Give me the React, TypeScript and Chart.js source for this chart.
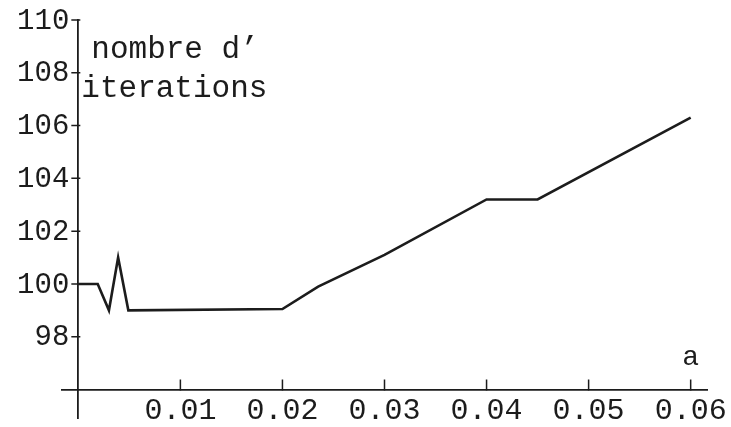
import { useEffect, useRef } from "react";
import { Chart, registerables } from "chart.js";

Chart.register(...registerables);

const aValues = [0, 0.0019, 0.003, 0.0039, 0.0049, 0.02, 0.0235, 0.03, 0.04, 0.045, 0.06];
const iterations = [100, 100, 99, 101, 99, 99.05, 99.9, 101.1, 103.2, 103.2, 106.3];
const xTicks = [0.01, 0.02, 0.03, 0.04, 0.05, 0.06];
const yTicks = [98, 100, 102, 104, 106, 108, 110];
const yTitleLines = ["nombre d\u2019", "iterations"];
const xTitle = "a";

const FONT = "'Liberation Mono', 'DejaVu Sans Mono', monospace";
const INK = "#1c1c1c";
const AXIS_Y = 96;

const zeroPad = (s: any) => {
  s.paddingTop = 0;
  s.paddingBottom = 0;
  s.paddingLeft = 0;
  s.paddingRight = 0;
};

const mathAxes = {
  id: "mathAxes",
  afterDraw(chart: any) {
    const ctx = chart.ctx;
    const xs = chart.scales.x;
    const ys = chart.scales.y;
    const ax = xs.getPixelForValue(0);
    const ay = ys.getPixelForValue(AXIS_Y);
    ctx.save();
    ctx.strokeStyle = INK;
    ctx.lineWidth = 1.5;
    ctx.beginPath();
    for (const v of yTicks) {
      const py = ys.getPixelForValue(v);
      ctx.moveTo(ax - 7, py);
      ctx.lineTo(ax + 2, py);
    }
    for (const v of xTicks) {
      const px = xs.getPixelForValue(v);
      ctx.moveTo(px, ay + 1);
      ctx.lineTo(px, ay - 10);
    }
    ctx.stroke();
    ctx.fillStyle = INK;
    ctx.font = `29px ${FONT}`;
    ctx.textAlign = "right";
    ctx.textBaseline = "middle";
    for (const v of yTicks) {
      ctx.fillText(String(v), ax - 9, ys.getPixelForValue(v) + 1);
    }
    ctx.font = `31px ${FONT}`;
    ctx.textBaseline = "alphabetic";
    ctx.textAlign = "left";
    ctx.fillText(yTitleLines[0], ax + 13, 58);
    ctx.fillText(yTitleLines[1], ax + 3, 97);
    ctx.font = `28px ${FONT}`;
    ctx.textAlign = "center";
    ctx.fillText(xTitle, xs.getPixelForValue(0.06), ay - 24);
    ctx.restore();
  },
};

export default function App() {
  const ref = useRef<HTMLCanvasElement | null>(null);
  useEffect(() => {
    if (!ref.current) return;
    const chart = new Chart(ref.current, {
      type: "line",
      data: {
        datasets: [
          {
            data: aValues.map((a, i) => ({ x: a, y: iterations[i] })),
            borderColor: INK,
            borderWidth: 2.6,
            pointRadius: 0,
            tension: 0,
            fill: false,
          },
        ],
      },
      options: {
        animation: false,
        responsive: true,
        maintainAspectRatio: false,
        layout: { padding: { left: 62, right: 24, top: 20, bottom: 9 } },
        plugins: { legend: { display: false }, tooltip: { enabled: false } },
        scales: {
          x: {
            type: "linear",
            min: -0.0016,
            max: 0.0616,
            position: { y: AXIS_Y } as any,
            afterBuildTicks: (s: any) => {
              s.ticks = xTicks.map((v) => ({ value: v }));
            },
            afterFit: zeroPad,
            grid: { display: true, drawOnChartArea: false, drawTicks: false },
            border: { display: true, color: INK, width: 1.8 },
            ticks: {
              color: INK,
              font: { family: FONT, size: 30 },
              padding: 4,
              maxRotation: 0,
              autoSkip: false,
              callback: (v: any) => Number(v).toFixed(2),
            },
          },
          y: {
            type: "linear",
            min: 94.92,
            max: 110,
            position: { x: 0 } as any,
            afterBuildTicks: (s: any) => {
              s.ticks = yTicks.map((v) => ({ value: v }));
            },
            afterFit: zeroPad,
            grid: { display: true, drawOnChartArea: false, drawTicks: false },
            border: { display: true, color: INK, width: 1.8 },
            ticks: { display: false },
          },
        },
      },
      plugins: [mathAxes],
    });
    return () => chart.destroy();
  }, []);
  return (
    <div style={{ position: "absolute", left: 0, top: 0, width: 731, height: 427, background: "#fff" }}>
      <canvas ref={ref} />
    </div>
  );
}
